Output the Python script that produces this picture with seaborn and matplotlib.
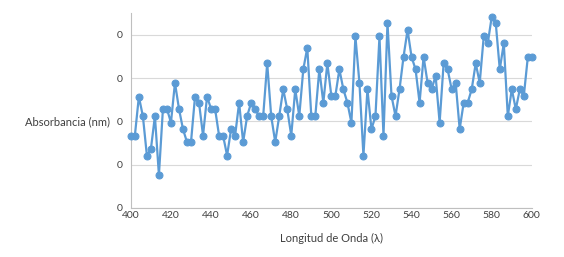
import numpy as np
import pandas as pd
import matplotlib
matplotlib.use('Agg')
import matplotlib.pyplot as plt
import seaborn as sns

# Wavelength every 2 nm from 400 to 600
wavelength = np.arange(400, 601, 2)

# Absorbance
absorbance = [
    0.167, 0.167, 0.257, 0.212, 0.121, 0.136, 0.212, 0.076, 0.229, 0.229,
    0.197, 0.289, 0.229, 0.182, 0.152, 0.152, 0.257, 0.243, 0.167, 0.257,
    0.229, 0.229, 0.167, 0.167, 0.121, 0.182, 0.167, 0.243, 0.152, 0.212,
    0.243, 0.228, 0.212, 0.212, 0.334, 0.212, 0.152, 0.212, 0.274, 0.228,
    0.167, 0.274, 0.212, 0.320, 0.370, 0.212, 0.212, 0.320, 0.243, 0.334,
    0.259, 0.259, 0.320, 0.274, 0.243, 0.197, 0.396, 0.289, 0.121, 0.274,
    0.182, 0.212, 0.396, 0.167, 0.427, 0.259, 0.212, 0.274, 0.349, 0.411,
    0.349, 0.320, 0.243, 0.349, 0.289, 0.274, 0.305, 0.197, 0.334, 0.320,
    0.274, 0.289, 0.182, 0.243, 0.243, 0.274, 0.334, 0.289, 0.396, 0.380,
    0.442, 0.427, 0.320, 0.380, 0.212, 0.274, 0.228, 0.274, 0.259, 0.349,
    0.349,
]

df = pd.DataFrame({'wl': wavelength, 'abs': absorbance})

sns.set_style('white')
plt.rcParams['font.family'] = ['Lato', 'DejaVu Sans']

fig = plt.figure(figsize=(5.64, 2.57), dpi=100)
ax = fig.add_axes([0.232, 0.191, 0.711, 0.758])

sns.lineplot(data=df, x='wl', y='abs', ax=ax, color='#5B9BD5',
             linewidth=1.6, marker='o', markersize=5,
             markeredgecolor='#5B9BD5', clip_on=False, zorder=3)

ax.set_xlim(400, 600)
ax.set_ylim(0, 0.45)
ax.set_xticks(range(400, 601, 20))
ax.set_yticks([0, 0.1, 0.2, 0.3, 0.4])
ax.yaxis.set_major_formatter(matplotlib.ticker.FormatStrFormatter('%.0f'))
ax.grid(axis='y', color='#D9D9D9', linewidth=0.8)
ax.set_axisbelow(True)

for s in ['top', 'right']:
    ax.spines[s].set_visible(False)
for s in ['left', 'bottom']:
    ax.spines[s].set_color('#BFBFBF')
    ax.spines[s].set_linewidth(0.8)

ax.tick_params(axis='both', length=0, labelsize=7.5, colors='#404040', pad=2)
ax.tick_params(axis='y', pad=6)

ax.set_xlabel('Longitud de Onda (λ)', fontsize=8, color='#404040')
ax.xaxis.set_label_coords(0.5, -0.13)
ax.set_ylabel('Absorbancia (nm)', fontsize=8, color='#404040',
              rotation=0, ha='right', va='center')
ax.yaxis.set_label_coords(-0.052, 0.44)

fig.savefig('out.png', dpi=100)
